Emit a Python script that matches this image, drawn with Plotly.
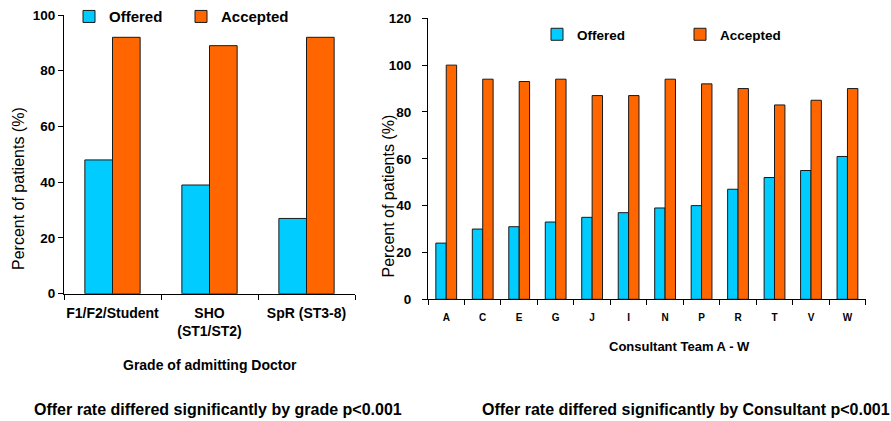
import plotly.graph_objects as go

# ---- data ----
grades = ["F1/F2/Student", "SHO<br>(ST1/ST2)", "SpR (ST3-8)"]
grade_offered = [48, 39, 27]
grade_accepted = [92, 89, 92]

teams = ["A", "C", "E", "G", "J", "I", "N", "P", "R", "T", "V", "W"]
team_offered = [24, 30, 31, 33, 35, 37, 39, 40, 47, 52, 55, 61]
team_accepted = [100, 94, 93, 94, 87, 87, 94, 92, 90, 83, 85, 90]

CYAN = "#00CCFF"
ORANGE = "#FF6600"
EDGE = "#1a1a1a"
FONT = "Arial, Liberation Sans, sans-serif"
W, H = 891, 421

def px(x):
    return x / W

def py(y):
    return (H - y) / H

fig = go.Figure()

fig.add_trace(go.Bar(x=grades, y=grade_offered, name="Offered", marker=dict(color=CYAN, line=dict(color=EDGE, width=1)),
                     xaxis="x", yaxis="y", legend="legend"))
fig.add_trace(go.Bar(x=grades, y=grade_accepted, name="Accepted", marker=dict(color=ORANGE, line=dict(color=EDGE, width=1)),
                     xaxis="x", yaxis="y", legend="legend"))
fig.add_trace(go.Bar(x=teams, y=team_offered, name="Offered", marker=dict(color=CYAN, line=dict(color=EDGE, width=1)),
                     xaxis="x2", yaxis="y2", legend="legend2"))
fig.add_trace(go.Bar(x=teams, y=team_accepted, name="Accepted", marker=dict(color=ORANGE, line=dict(color=EDGE, width=1)),
                     xaxis="x2", yaxis="y2", legend="legend2"))

axis_common = dict(showline=True, linecolor="black", linewidth=1, showgrid=False, zeroline=False,
                   ticks="outside", ticklen=5, tickcolor="black", tickwidth=1, automargin=False)

fig.update_layout(
    width=W, height=H,
    margin=dict(l=0, r=0, t=0, b=0, autoexpand=False),
    paper_bgcolor="white", plot_bgcolor="white",
    font=dict(family=FONT, color="black"),
    barmode="group", bargap=0.43, bargroupgap=0,
    xaxis=dict(domain=[px(64), px(355)], anchor="y", tickson="boundaries", tickangle=0, ticklabelstandoff=6,
               tickfont=dict(size=14, weight="bold"), **axis_common),
    yaxis=dict(domain=[py(293.7), py(15)], anchor="x", range=[0, 100], tickvals=[0, 20, 40, 60, 80, 100],
               tickfont=dict(size=13.5, weight="bold"), **axis_common),
    xaxis2=dict(domain=[px(428), px(865.7)], anchor="y2", tickson="boundaries", tickangle=0, ticklabelstandoff=9,
                tickfont=dict(size=10, weight="bold"), **axis_common),
    yaxis2=dict(domain=[py(299.3), py(18.3)], anchor="x2", range=[0, 120], tickvals=[0, 20, 40, 60, 80, 100, 120],
                ticklabelstandoff=8, tickfont=dict(size=13.5, weight="bold"), **axis_common),
    legend=dict(orientation="h", x=px(69), y=py(16.7), xanchor="left", yanchor="middle",
                entrywidth=67, entrywidthmode="pixels", bgcolor="rgba(0,0,0,0)",
                font=dict(size=15, weight="bold"), traceorder="normal"),
    legend2=dict(orientation="h", x=px(537), y=py(34.5), xanchor="left", yanchor="middle",
                 entrywidth=98, entrywidthmode="pixels", bgcolor="rgba(0,0,0,0)",
                 font=dict(size=13.5, weight="bold"), traceorder="normal"),
)

ann = [
    dict(text="Percent of patients (%)", x=px(18), y=py(189), textangle=-90, font=dict(size=16)),
    dict(text="Percent of patients (%)", x=px(387.5), y=py(196), textangle=-90, font=dict(size=16)),
    dict(text="Grade of admitting Doctor", x=px(210), y=py(365), font=dict(size=14, weight="bold")),
    dict(text="Consultant Team A - W", x=px(679.5), y=py(346.7), font=dict(size=13, weight="bold")),
    dict(text="Offer rate differed significantly by grade p<0.001", x=px(218), y=py(409), font=dict(size=16, weight="bold")),
    dict(text="Offer rate differed significantly by Consultant p<0.001", x=px(686), y=py(409), font=dict(size=16, weight="bold")),
]
for a in ann:
    fig.add_annotation(xref="paper", yref="paper", showarrow=False, xanchor="center", yanchor="middle", **a)

fig.write_html("out.html", config={"displayModeBar": False},
               post_script="document.body.style.margin='0';document.body.style.overflow='hidden';")
